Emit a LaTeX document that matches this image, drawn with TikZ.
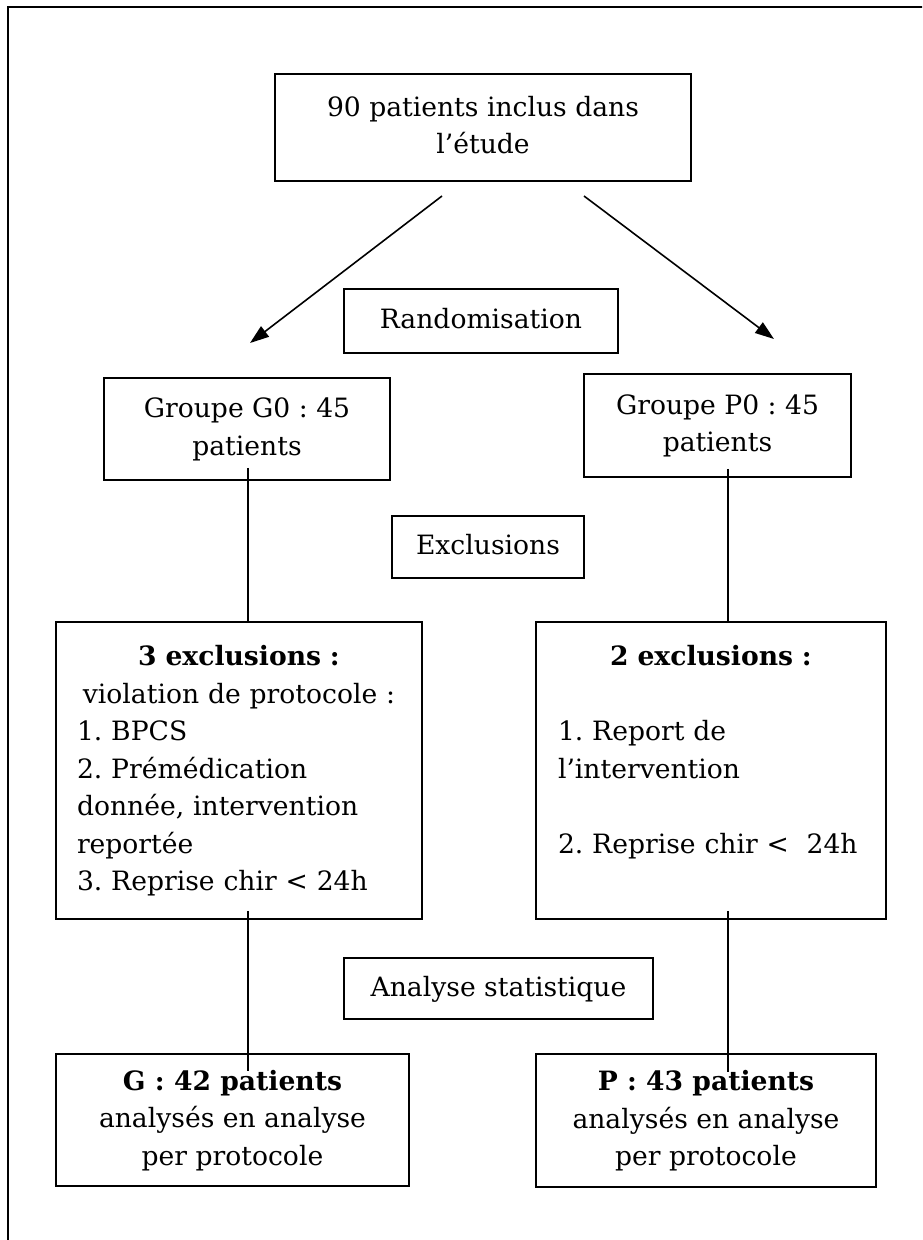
\documentclass[tikz,border=0pt]{standalone}
\usepackage{fontspec}
\setmainfont{DejaVu Serif}
\usetikzlibrary{arrows.meta}
\frenchspacing
\begin{document}
\begin{tikzpicture}[x=1pt,y=-1pt,
  box/.style={draw,line width=1.6pt,inner sep=0pt,align=center,
    font=\fontsize{26.6}{37.5}\selectfont\frenchspacing},
  listbox/.style={box,align=left},
  link/.style={line width=1.3pt},
  arrowline/.style={line width=1.6pt,-{Triangle[length=19pt,width=13pt]}}]
\useasboundingbox (0,0) rectangle (922,1240);
\begin{scope}
\clip (0,0) rectangle (922,1240);
\draw[line width=1.4pt] (8,7) rectangle (960,1280);
\end{scope}

\node[box,minimum width=416pt,minimum height=107pt] (top) at (483,127.5)
  {90 patients inclus dans\strut\\l’étude\strut};
\node[box,minimum width=274pt,minimum height=64pt] (rand) at (481,321)
  {Randomisation\strut};
\node[box,minimum width=286pt,minimum height=102pt] (g0) at (247,429)
  {Groupe G0 : 45\strut\\patients\strut};
\node[box,minimum width=267pt,minimum height=103pt] (p0) at (717.5,425.5)
  {Groupe P0 : 45\strut\\patients\strut};
\node[box,minimum width=192pt,minimum height=62pt] (excl) at (488,547)
  {Exclusions\strut};
\node[listbox,text width=324pt,inner xsep=21pt,minimum height=297pt] (ex1) at (239,770.5)
  {\makebox[\linewidth]{\textbf{3 exclusions :}\strut}\\
   \makebox[\linewidth]{violation de protocole :\strut}\\
   1. BPCS\strut\\
   2. Prémédication\strut\\
   donnée, intervention\strut\\
   reportée\strut\\
   3. Reprise chir < 24h\strut};
\node[listbox,text width=306pt,inner xsep=22pt,minimum height=297pt] (ex2) at (711,770.5)
  {\makebox[\linewidth]{\textbf{2 exclusions :}\strut}\\
   \strut\\
   1. Report de\strut\\
   l’intervention\strut\\
   \strut\\
   2. Reprise chir <\ \ 24h\strut\\
   \strut};
\node[box,minimum width=309pt,minimum height=61pt] (stat) at (498.5,988.5)
  {Analyse statistique\strut};
\node[box,minimum width=353pt,minimum height=132pt] (g) at (232.5,1120)
  {\textbf{G : 42 patients}\strut\\analysés en analyse\strut\\per protocole\strut};
\node[box,minimum width=340pt,minimum height=133pt] (p) at (706,1120.5)
  {\textbf{P : 43 patients}\strut\\analysés en analyse\strut\\per protocole\strut};

\coordinate (a1s) at (442,196);
\coordinate (a1e) at (250,343);
\coordinate (a2s) at (584,196);
\coordinate (a2e) at (774,339);
\draw[arrowline] (a1s) -- (a1e);
\draw[arrowline] (a2s) -- (a2e);

\draw[link] ([xshift=1pt,yshift=13pt]g0.south) -- ([xshift=1pt]g0.south |- ex1.north);
\draw[link] ([xshift=10.5pt,yshift=9pt]p0.south) -- ([xshift=10.5pt]p0.south |- ex2.north);
\draw[link] ([xshift=1pt,yshift=9pt]g0.south |- ex1.south) -- ([xshift=1pt,yshift=-18pt]g0.south |- g.north);
\draw[link] ([xshift=10.5pt,yshift=9pt]p0.south |- ex2.south) -- ([xshift=10.5pt,yshift=-19pt]p0.south |- p.north);
\end{tikzpicture}
\end{document}
